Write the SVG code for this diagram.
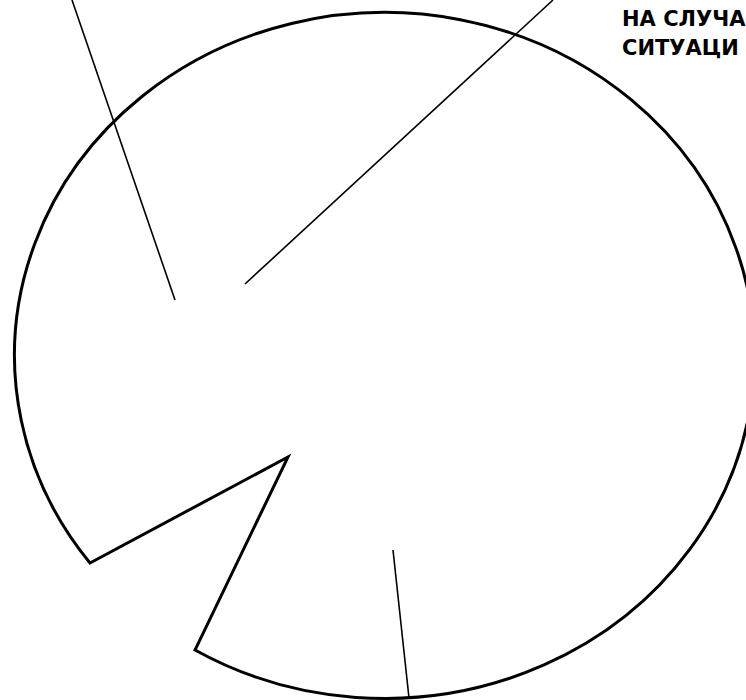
<svg xmlns="http://www.w3.org/2000/svg" width="746" height="700" viewBox="0 0 746 700">
<style>
.shape{fill:none;stroke:#000;stroke-width:3;stroke-linejoin:miter}
.lead{stroke:#000;stroke-width:1.6;fill:none}
.lbl{font-family:"DejaVu Sans",sans-serif;font-weight:bold;font-size:21px;fill:#000}
</style>
<rect width="746" height="700" fill="#fff"/>
<g id="disc">
<path class="shape" d="M 90 563 L 288 457 L 195 650 A 370 343 0 1 0 90 563 Z"/>
</g>
<g id="connectors">
<line class="lead" x1="72" y1="0" x2="175" y2="300"/>
<line class="lead" x1="553" y1="0" x2="245" y2="284"/>
<line class="lead" x1="393" y1="550" x2="409" y2="698"/>
</g>
<g id="label">
<text class="lbl" x="622" y="26">НА СЛУЧА</text>
<text class="lbl" x="622" y="55">СИТУАЦИ</text>
</g>
</svg>
